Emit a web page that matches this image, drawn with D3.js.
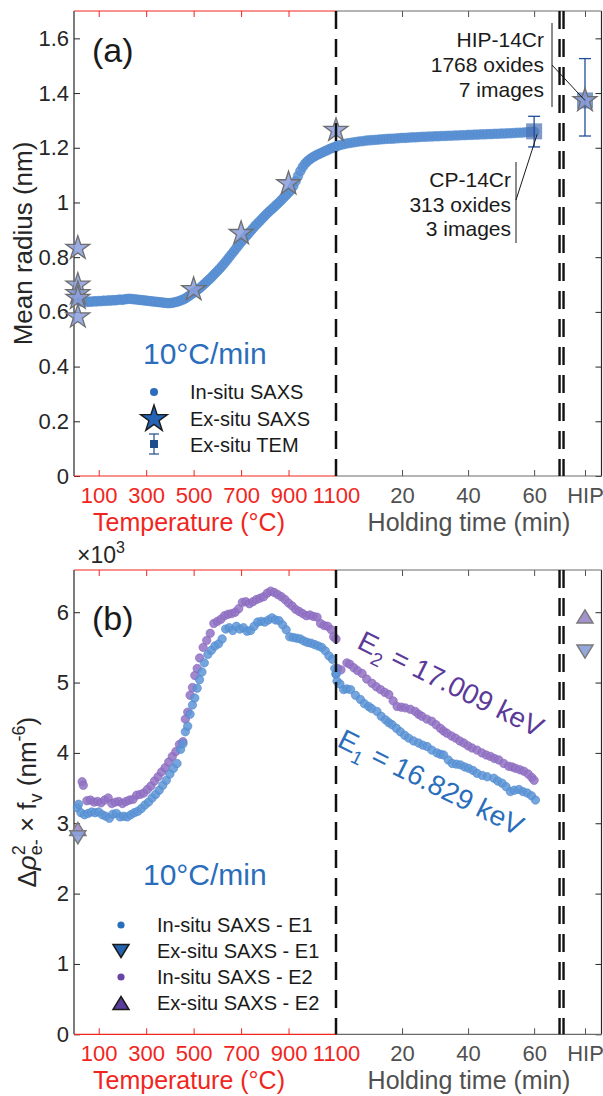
<!DOCTYPE html>
<html>
<head>
<meta charset="utf-8">
<script src="https://cdn.jsdelivr.net/npm/d3@7"></script>
<style>
  body { margin: 0; background: #fff; }
  svg { display: block; font-family: "Liberation Sans", Arial, Helvetica, sans-serif; }
</style>
</head>
<body>
<svg id="chart" width="603" height="1096"></svg>
<script>
/* global d3 */

// ---- axis ticks / labels ----
const tempTicks = [100, 300, 500, 700, 900, 1100];
const timeTicks = [20, 40, 60];
const hipLabel = "HIP";
const radiusTicks = [0, 0.2, 0.4, 0.6, 0.8, 1, 1.2, 1.4, 1.6];
const contrastTicks = [0, 1, 2, 3, 4, 5, 6];

// ---- (a) in-situ SAXS mean radius (nm) ----
const radiusHeatT = [20, 30, 40, 50, 60, 70, 80, 90, 100, 110,
  120, 130, 140, 150, 160, 170, 180, 190, 200, 210,
  220, 230, 240, 250, 260, 270, 280, 290, 300, 310,
  320, 330, 340, 350, 360, 370, 380, 390, 400, 410,
  420, 430, 440, 450, 460, 470, 480, 490, 500, 510,
  520, 530, 540, 550, 560, 570, 580, 590, 600, 610,
  620, 630, 640, 650, 660, 670, 680, 690, 700, 710,
  720, 730, 740, 750, 760, 770, 780, 790, 800, 810,
  820, 830, 840, 850, 860, 870, 880, 890, 900, 910,
  920, 930, 940, 950, 960, 970, 980, 990, 1000, 1010,
  1020, 1030, 1040, 1050, 1060, 1070, 1080, 1090, 1100];
const radiusHeat = [0.640, 0.637, 0.639, 0.636, 0.638, 0.637, 0.639, 0.638, 0.640, 0.639,
  0.641, 0.640, 0.642, 0.641, 0.643, 0.642, 0.644, 0.645, 0.644, 0.646,
  0.647, 0.648, 0.647, 0.646, 0.645, 0.644, 0.643, 0.642, 0.641, 0.640,
  0.639, 0.638, 0.637, 0.636, 0.635, 0.634, 0.633, 0.632, 0.632, 0.633,
  0.635, 0.637, 0.640, 0.643, 0.647, 0.652, 0.658, 0.664, 0.670, 0.676,
  0.683, 0.690, 0.698, 0.706, 0.714, 0.722, 0.731, 0.740, 0.749, 0.758,
  0.768, 0.778, 0.789, 0.800, 0.811, 0.822, 0.833, 0.844, 0.855, 0.865,
  0.875, 0.885, 0.895, 0.905, 0.915, 0.924, 0.933, 0.942, 0.951, 0.960,
  0.968, 0.976, 0.984, 0.992, 1.000, 1.009, 1.018, 1.027, 1.036, 1.045,
  1.060, 1.078, 1.097, 1.115, 1.130, 1.142, 1.151, 1.158, 1.164, 1.169,
  1.174, 1.178, 1.182, 1.186, 1.190, 1.194, 1.198, 1.201, 1.204];
const radiusHoldT = [0, 1, 2, 3, 4, 5, 6, 7, 8, 9,
  10, 11, 12, 13, 14, 15, 16, 17, 18, 19,
  20, 21, 22, 23, 24, 25, 26, 27, 28, 29,
  30, 31, 32, 33, 34, 35, 36, 37, 38, 39,
  40, 41, 42, 43, 44, 45, 46, 47, 48, 49,
  50, 51, 52, 53, 54, 55, 56, 57, 58, 59, 60];
const radiusHold = [1.205, 1.209, 1.212, 1.215, 1.217, 1.219, 1.221, 1.223, 1.224, 1.226,
  1.227, 1.228, 1.229, 1.230, 1.231, 1.232, 1.233, 1.233, 1.234, 1.235,
  1.236, 1.236, 1.237, 1.238, 1.238, 1.239, 1.240, 1.240, 1.241, 1.241,
  1.242, 1.242, 1.243, 1.243, 1.244, 1.244, 1.245, 1.245, 1.246, 1.246,
  1.247, 1.247, 1.248, 1.248, 1.249, 1.249, 1.250, 1.250, 1.251, 1.251,
  1.252, 1.252, 1.253, 1.253, 1.254, 1.255, 1.255, 1.256, 1.257, 1.258, 1.259];
// ex-situ SAXS (temperature, radius); HIP sample separately
const exSituT = [12, 12, 12, 12, 12, 500, 700, 900, 1100];
const exSituR = [0.833, 0.698, 0.667, 0.650, 0.582, 0.682, 0.887, 1.069, 1.264];
const exSituHip = 1.373;
// ex-situ TEM: CP-14Cr after 60 min, HIP-14Cr
const temCP = { time: 60, r: 1.260, lo: 1.203, hi: 1.315 };
const temHIP = { r: 1.373, lo: 1.243, hi: 1.526 };

// ---- (b) contrast x volume fraction (x10^3 nm^-6) ----
const e1Heat = [[10, 3.22], [15, 3.27], [25, 3.15], [40, 3.12], [55, 3.14], [70, 3.16], [85, 3.15],
  [100, 3.16], [115, 3.12], [130, 3.10], [145, 3.07], [160, 3.13], [175, 3.14], [190, 3.09],
  [205, 3.10], [220, 3.09], [235, 3.12], [250, 3.15], [265, 3.17], [280, 3.21], [295, 3.26],
  [310, 3.30], [325, 3.36], [340, 3.41], [355, 3.47], [370, 3.54], [385, 3.61], [400, 3.70],
  [415, 3.78], [430, 3.85], [445, 4.05], [455, 4.13], [465, 4.30], [475, 4.38], [485, 4.55],
  [495, 4.68], [505, 4.78], [515, 4.92], [525, 5.04], [535, 5.15], [545, 5.28], [560, 5.40],
  [575, 5.46], [590, 5.52], [605, 5.55], [620, 5.62], [635, 5.76], [650, 5.78], [665, 5.74],
  [680, 5.80], [695, 5.76], [710, 5.78], [725, 5.73], [740, 5.74], [755, 5.80], [770, 5.86],
  [785, 5.87], [800, 5.86], [815, 5.89], [830, 5.92], [845, 5.89], [860, 5.88], [875, 5.82],
  [890, 5.75], [905, 5.65], [920, 5.64], [935, 5.63], [950, 5.62], [965, 5.59], [980, 5.57],
  [995, 5.56], [1010, 5.54], [1025, 5.52], [1040, 5.50], [1055, 5.45], [1070, 5.38],
  [1085, 5.33], [1095, 5.20], [1100, 5.12]];
const e2Heat = [[30, 3.59], [35, 3.54], [50, 3.32], [65, 3.33], [80, 3.30], [95, 3.31],
  [110, 3.29], [125, 3.33], [140, 3.36], [155, 3.28], [170, 3.30], [185, 3.31], [200, 3.28],
  [215, 3.31], [230, 3.33], [245, 3.34], [260, 3.40], [275, 3.41], [290, 3.43], [305, 3.48],
  [320, 3.53], [335, 3.60], [350, 3.66], [365, 3.73], [380, 3.79], [395, 3.87], [410, 3.95],
  [425, 4.02], [440, 4.12], [455, 4.16], [465, 4.48], [475, 4.58], [485, 4.82], [495, 4.93],
  [505, 5.10], [515, 5.20], [525, 5.35], [540, 5.50], [555, 5.60], [570, 5.70], [585, 5.84],
  [600, 5.87], [615, 5.90], [630, 5.95], [645, 5.97], [660, 5.98], [675, 6.00], [690, 6.05],
  [705, 6.14], [720, 6.15], [735, 6.12], [750, 6.15], [765, 6.18], [780, 6.20], [795, 6.22],
  [810, 6.27], [825, 6.30], [840, 6.28], [855, 6.25], [870, 6.22], [885, 6.18], [900, 6.13],
  [915, 6.09], [930, 6.04], [945, 6.01], [960, 5.98], [975, 5.95], [990, 5.96], [1005, 5.94],
  [1020, 5.93], [1035, 5.84], [1050, 5.81], [1065, 5.80], [1080, 5.75], [1090, 5.65], [1100, 5.62]];
const e1Hold = [[0, 5.12], [0.3, 5.02], [1.2, 4.98], [2.3, 4.90], [3.3, 4.91], [4.4, 4.90],
  [5.9, 4.82], [7.4, 4.76], [8.6, 4.70], [9.9, 4.66], [10.8, 4.63], [12.4, 4.59], [13.7, 4.52],
  [15, 4.47], [16, 4.43], [17, 4.40], [18.3, 4.35], [19.5, 4.30], [20.8, 4.25], [22, 4.21],
  [23.5, 4.17], [25, 4.14], [26.3, 4.11], [27.6, 4.09], [29, 4.04], [30.6, 4.00], [31.6, 3.98],
  [32.6, 3.97], [34, 3.90], [35.2, 3.85], [36.5, 3.84], [37.7, 3.83], [39, 3.80], [40.2, 3.78],
  [41.5, 3.75], [42.7, 3.71], [44.3, 3.68], [45.8, 3.66], [47.8, 3.64], [49, 3.60], [50.3, 3.57],
  [51.5, 3.52], [52.8, 3.45], [54, 3.47], [55.4, 3.48], [56.6, 3.45], [57.9, 3.43], [59.2, 3.39],
  [60.4, 3.33]];
const e2Hold = [[0.5, 5.20], [1.5, 5.18], [3.3, 5.28], [4.2, 5.26], [5.4, 5.21], [6.5, 5.17],
  [7.9, 5.13], [9.3, 5.05], [10.9, 4.99], [12.2, 4.94], [13.5, 4.90], [14.8, 4.86], [16, 4.83],
  [17.3, 4.74], [18.5, 4.66], [19.8, 4.65], [21, 4.64], [22.5, 4.62], [24, 4.59], [25, 4.55],
  [26, 4.52], [27.5, 4.48], [29, 4.45], [30.3, 4.40], [31.6, 4.35], [32.6, 4.31], [33.6, 4.28],
  [35, 4.24], [36.2, 4.21], [37.5, 4.17], [38.7, 4.14], [40, 4.10], [41.2, 4.07], [42.7, 4.04],
  [44.2, 4.00], [45.5, 3.97], [46.8, 3.95], [48, 3.92], [49.3, 3.90], [50.8, 3.85], [52.3, 3.81],
  [53.4, 3.80], [54.4, 3.78], [55.7, 3.76], [56.9, 3.74], [58.2, 3.70], [59.3, 3.65], [60, 3.61]];
// ex-situ SAXS triangles: as-received (temperature) and HIP
const exE1 = { temp: 12, v: 2.80, hip: 5.44 };
const exE2 = { temp: 12, v: 2.92, hip: 5.94 };

// ---- layout ----
const svg = d3.select("#chart");
const L = 74, R = 601.5;
const panA = { top: 11, bottom: 476 };
const panB = { top: 570, bottom: 1034.3 };
const hipPos = 75.4;      // HIP column, in holding-time units
const breakPos = 68.3;    // double dashed separator

const xT = d3.scaleLinear().domain([0, 1100]).range([75, 336]);
const xH = d3.scaleLinear().domain([0, 80.4]).range([336, R]);
const yA = d3.scaleLinear().domain([0, 1.7]).range([panA.bottom, panA.top]);
const yB = d3.scaleLinear().domain([0, 6.6]).range([panB.bottom, panB.top]);

const RED = "#f0261e", GRAY = "#505050", DARK = "#262626";
const BLUE = "#2a6ebb", PURPLE = "#5b3a99";

function styleAxis(g, color, size) {
  g.attr("font-family", null).attr("font-size", size);
  g.select(".domain").remove();
  g.selectAll("line").attr("stroke", color).attr("stroke-width", 1);
  g.selectAll("text").attr("fill", color);
}

function frame(y, pan, yTicks, yFmt) {
  const g = svg.append("g");
  // left / right y axes
  g.append("g").attr("transform", `translate(${L},0)`)
    .call(d3.axisLeft(y).tickValues(yTicks).tickFormat(yFmt).tickSizeInner(-6).tickSizeOuter(0).tickPadding(5))
    .call(a => styleAxis(a, DARK, 22));
  g.append("g").attr("transform", `translate(${R},0)`)
    .call(d3.axisRight(y).tickValues(yTicks).tickFormat("").tickSizeInner(-6).tickSizeOuter(0))
    .call(a => styleAxis(a, DARK, 22));
  // bottom axes: temperature (red) and holding time (gray)
  g.append("g").attr("transform", `translate(0,${pan.bottom})`)
    .call(d3.axisBottom(xT).tickValues(tempTicks).tickFormat(d3.format("d"))
      .tickSizeInner(-6).tickSizeOuter(0).tickPadding(11))
    .call(a => styleAxis(a, RED, 22));
  g.append("g").attr("transform", `translate(0,${pan.bottom})`)
    .call(d3.axisBottom(xH).tickValues([...timeTicks, hipPos]).tickFormat(d => d === hipPos ? hipLabel : d)
      .tickSizeInner(-6).tickSizeOuter(0).tickPadding(11))
    .call(a => styleAxis(a, GRAY, 22));
  // top ticks
  g.append("g").attr("transform", `translate(0,${pan.top})`)
    .call(d3.axisTop(xT).tickValues(tempTicks).tickFormat("").tickSizeInner(-6).tickSizeOuter(0))
    .call(a => styleAxis(a, RED, 22));
  g.append("g").attr("transform", `translate(0,${pan.top})`)
    .call(d3.axisTop(xH).tickValues([...timeTicks, hipPos]).tickFormat("").tickSizeInner(-6).tickSizeOuter(0))
    .call(a => styleAxis(a, GRAY, 22));
  // box lines
  const seg = (x1, y1, x2, y2, c) => g.append("line").attr("x1", x1).attr("y1", y1).attr("x2", x2).attr("y2", y2)
    .attr("stroke", c).attr("stroke-width", 1.2);
  seg(L, pan.top, L, pan.bottom, DARK);
  seg(R, pan.top, R, pan.bottom, DARK);
  [pan.top, pan.bottom].forEach(yy => {
    seg(L, yy, xT(1100), yy, RED);
    seg(xT(1100), yy, R, yy, "#6a6a6a");
  });
  // axis titles
  g.append("text").attr("x", 189).attr("y", pan.bottom + 55).attr("text-anchor", "middle")
    .attr("font-size", 25).attr("fill", RED).text("Temperature (°C)");
  g.append("text").attr("x", 469).attr("y", pan.bottom + 55).attr("text-anchor", "middle")
    .attr("font-size", 25).attr("fill", GRAY).text("Holding time (min)");
  return g;
}

function separators(pan) {
  const g = svg.append("g").attr("stroke", "#111").attr("fill", "none");
  g.append("line").attr("x1", xT(1100)).attr("x2", xT(1100)).attr("y1", pan.top).attr("y2", pan.bottom)
    .attr("stroke-width", 2.5).attr("stroke-dasharray", "18,10");
  [-2, 2].forEach(o => {
    g.append("line").attr("x1", xH(breakPos) + o).attr("x2", xH(breakPos) + o)
      .attr("y1", pan.top).attr("y2", pan.bottom)
      .attr("stroke-width", 2.4).attr("stroke-dasharray", "18,10");
  });
}

function tri(up, w, h) {
  return up ? `M0,${-h / 2}L${w / 2},${h / 2}L${-w / 2},${h / 2}Z` : `M0,${h / 2}L${w / 2},${-h / 2}L${-w / 2},${-h / 2}Z`;
}
const starPath = d3.symbol(d3.symbolStar, 175)();

// ================= panel (a) =================
frame(yA, panA, radiusTicks, d => d === 0 || d === 1 ? d3.format("d")(d) : d3.format(".1f")(d));

svg.append("text").attr("font-size", 26).attr("fill", DARK).attr("text-anchor", "middle")
  .attr("transform", `translate(32,${(panA.top + panA.bottom) / 2}) rotate(-90)`)
  .text("Mean radius (nm)");

const gA = svg.append("g");
gA.selectAll("circle.heat").data(radiusHeatT).join("circle")
  .attr("cx", d => xT(d)).attr("cy", (d, i) => yA(radiusHeat[i])).attr("r", 4.8)
  .attr("fill", "#5b91d3").attr("fill-opacity", 0.85).attr("stroke", "#4f88cc").attr("stroke-width", 0.6);
gA.selectAll("circle.hold").data(radiusHoldT).join("circle")
  .attr("cx", d => xH(d)).attr("cy", (d, i) => yA(radiusHold[i])).attr("r", 4.8)
  .attr("fill", "#5b91d3").attr("fill-opacity", 0.85).attr("stroke", "#4f88cc").attr("stroke-width", 0.6);

separators(panA);

// TEM squares with error bars
[{ x: xH(temCP.time), d: temCP }, { x: xH(hipPos), d: temHIP }].forEach(({ x, d }) => {
  gA.append("rect").attr("x", x - 8).attr("y", yA(d.r) - 8).attr("width", 16).attr("height", 16)
    .attr("fill", "#4d72b3").attr("fill-opacity", 0.72);
  const eb = gA.append("g").attr("stroke", "#1f4e9a").attr("stroke-width", 1.3);
  eb.append("line").attr("x1", x).attr("x2", x).attr("y1", yA(d.lo)).attr("y2", yA(d.hi));
  [d.lo, d.hi].forEach(v => eb.append("line").attr("x1", x - 6).attr("x2", x + 6).attr("y1", yA(v)).attr("y2", yA(v)));
});

// ex-situ SAXS stars
const starPts = exSituT.map((t, i) => [xT(t), yA(exSituR[i])]).concat([[xH(hipPos), yA(exSituHip)]]);
gA.selectAll("path.star").data(starPts).join("path")
  .attr("d", starPath).attr("transform", d => `translate(${d[0]},${d[1]})`)
  .attr("fill", "#8a9edb").attr("fill-opacity", 0.85).attr("stroke", "#6e6e6e").attr("stroke-width", 1.3);

// annotations
function note(lines, xr, y0, step) {
  const t = gA.append("text").attr("font-size", 21).attr("fill", "#1a1a1a").attr("text-anchor", "end");
  lines.forEach((s, i) => t.append("tspan").attr("x", xr).attr("y", y0 + i * step).text(s));
}
note(["HIP-14Cr", "1768 oxides", "7 images"], 544, 47, 25);
note(["CP-14Cr", "313 oxides", "3 images"], 511, 187, 24.5);
const ann = gA.append("g").attr("stroke", "#1a1a1a").attr("stroke-width", 1);
ann.append("line").attr("x1", 552).attr("x2", 552).attr("y1", 23).attr("y2", 107);
ann.append("line").attr("x1", 552).attr("y1", 65).attr("x2", xH(hipPos)).attr("y2", yA(temHIP.r));
ann.append("line").attr("x1", 516).attr("x2", 516).attr("y1", 162).attr("y2", 243);
ann.append("line").attr("x1", 516).attr("y1", 200).attr("x2", xH(temCP.time) + 3).attr("y2", yA(temCP.r) + 3);

gA.append("text").attr("x", 92).attr("y", 62).attr("font-size", 34).attr("fill", "#1a1a1a").text("(a)");
gA.append("text").attr("x", 143).attr("y", 364).attr("font-size", 30).attr("fill", BLUE).text("10°C/min");

// legend (a)
const legA = gA.append("g").attr("font-size", 20).attr("fill", "#1a1a1a");
legA.append("circle").attr("cx", 154).attr("cy", 392).attr("r", 4).attr("fill", BLUE);
legA.append("path").attr("d", d3.symbol(d3.symbolStar, 220)()).attr("transform", "translate(154,419)")
  .attr("fill", "#2563b5").attr("stroke", "#1a1a1a").attr("stroke-width", 1.4);
legA.append("rect").attr("x", 150).attr("y", 440).attr("width", 8).attr("height", 8).attr("fill", "#1f4e8c");
const lgEb = legA.append("g").attr("stroke", "#1f4e8c").attr("stroke-width", 1.2);
lgEb.append("line").attr("x1", 154).attr("x2", 154).attr("y1", 434).attr("y2", 454);
[434, 454].forEach(v => lgEb.append("line").attr("x1", 149).attr("x2", 159).attr("y1", v).attr("y2", v));
["In-situ SAXS", "Ex-situ SAXS", "Ex-situ TEM"].forEach((s, i) =>
  legA.append("text").attr("x", 190).attr("y", 399 + i * 26.5).text(s));

// ================= panel (b) =================
frame(yB, panB, contrastTicks, d3.format("d"));

const mult = svg.append("text").attr("x", 77).attr("y", 563).attr("font-size", 23).attr("fill", DARK);
mult.append("tspan").text("×10");
mult.append("tspan").attr("font-size", 16).attr("dy", -10).text("3");

const yl = svg.append("text").attr("font-size", 26).attr("fill", DARK).attr("text-anchor", "middle")
  .attr("transform", `translate(36,${(panB.top + panB.bottom) / 2}) rotate(-90)`);
yl.append("tspan").text("Δ");
yl.append("tspan").attr("font-style", "italic").text("ρ");
yl.append("tspan").attr("font-size", 18).attr("dy", -11).text("2");
yl.append("tspan").attr("font-size", 18).attr("dx", -10).attr("dy", 17).text("e-");
yl.append("tspan").attr("dy", -6).text(" × f");
yl.append("tspan").attr("font-size", 18).attr("dy", 6).text("v");
yl.append("tspan").attr("dy", -6).text(" (nm");
yl.append("tspan").attr("font-size", 18).attr("dy", -11).text("-6");
yl.append("tspan").attr("dy", 11).text(")");

const gB = svg.append("g");
function dots(data, xs, fill, stroke) {
  gB.append("g").selectAll("circle").data(data).join("circle")
    .attr("cx", d => xs(d[0])).attr("cy", d => yB(d[1])).attr("r", 4.2)
    .attr("fill", fill).attr("fill-opacity", 0.85).attr("stroke", stroke).attr("stroke-width", 0.6);
}
dots(e2Heat, xT, "#9272c4", "#8463ba");
dots(e2Hold, xH, "#9272c4", "#8463ba");
dots(e1Heat, xT, "#5d95d6", "#4d87cc");
dots(e1Hold, xH, "#5d95d6", "#4d87cc");

separators(panB);

// ex-situ triangles
[[xT(exE2.temp), exE2.v, true, "#a08acb"], [xT(exE1.temp), exE1.v, false, "#8aa0da"],
 [xH(hipPos), exE2.hip, true, "#9a86c8"], [xH(hipPos), exE1.hip, false, "#8a9fd8"]].forEach(([x, v, up, c]) => {
  gB.append("path").attr("d", tri(up, 16, 13)).attr("transform", `translate(${x},${yB(v)})`)
    .attr("fill", c).attr("fill-opacity", 0.9).attr("stroke", "#7a7a7a").attr("stroke-width", 1.5);
});

gB.append("text").attr("x", 92).attr("y", 630).attr("font-size", 34).attr("fill", "#1a1a1a").text("(b)");
gB.append("text").attr("x", 143).attr("y", 885).attr("font-size", 30).attr("fill", BLUE).text("10°C/min");

function energyLabel(x, y, idx, txt, color) {
  const t = gB.append("text").attr("font-size", 28).attr("fill", color)
    .attr("transform", `translate(${x},${y}) rotate(26.5)`);
  t.append("tspan").text("E");
  t.append("tspan").attr("font-size", 19).attr("dy", 8).text(idx);
  t.append("tspan").attr("dy", -8).text(txt);
}
energyLabel(xH(6), yB(5.5), "2", "  = 17.009 keV", PURPLE);
energyLabel(xH(0), yB(4.1), "1", "  = 16.829 keV", BLUE);

// legend (b)
const legB = gB.append("g").attr("font-size", 20).attr("fill", "#1a1a1a");
const rowsB = [
  ["dot", BLUE, "In-situ SAXS - E1"],
  ["down", "#2363b0", "Ex-situ SAXS - E1"],
  ["dot", "#6a45a8", "In-situ SAXS - E2"],
  ["up", "#5a3c9c", "Ex-situ SAXS - E2"]
];
rowsB.forEach(([m, c, s], i) => {
  const yy = 925 + i * 26;
  if (m === "dot") legB.append("circle").attr("cx", 121).attr("cy", yy).attr("r", 3.6).attr("fill", c);
  else legB.append("path").attr("d", tri(m === "up", 16, 13)).attr("transform", `translate(121,${yy})`)
    .attr("fill", c).attr("stroke", "#1a1a1a").attr("stroke-width", 1.5);
  legB.append("text").attr("x", 157).attr("y", yy + 7).text(s);
});
</script>
</body>
</html>
